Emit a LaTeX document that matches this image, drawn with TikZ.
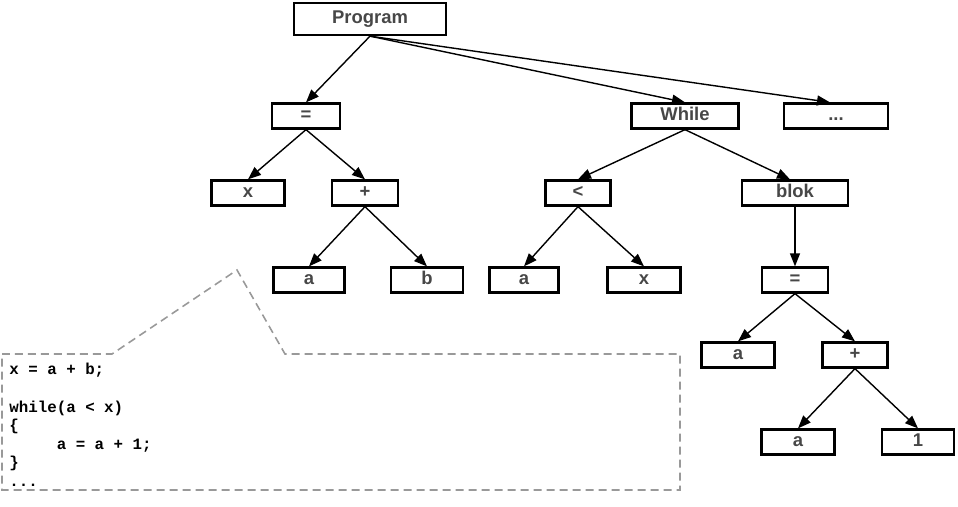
\documentclass[tikz,border=0pt]{standalone}
\usepackage{fontspec}
\setmainfont{Liberation Sans}
\setmonofont{Liberation Mono}
\usetikzlibrary{arrows.meta}

\begin{document}
\begin{tikzpicture}[x=0.02cm,y=-0.02cm,
  box/.style={draw,line width=1.3pt,minimum width=1.42cm,minimum height=0.5cm,inner sep=0pt,
    text height=0.74em,text depth=0.2em,
    text=black!72,font=\bfseries\fontsize{10.5}{12}\selectfont},
  edge/.style={line width=0.8pt,-{Triangle[length=2.6mm,width=2mm]}}]
\useasboundingbox (0,0) rectangle (958,507);
% tree
\node[box,minimum width=3.04cm,minimum height=0.64cm] (Program) at (370,19) {Program};
\node[box,minimum width=1.36cm] (eqA) at (306,116) {=};
\node[box,minimum width=2.14cm] (While) at (685,116) {While};
\node[box,minimum width=2.08cm] (dots) at (836,116) {...};
\node[box,minimum width=1.46cm] (xA) at (248,193) {x};
\node[box,minimum width=1.32cm] (plusA) at (365,193) {+};
\node[box,minimum width=1.3cm] (lt) at (578,193) {<};
\node[box,minimum width=2.12cm] (blok) at (795,193) {blok};
\node[box] (aA) at (309,280) {a};
\node[box,minimum width=1.44cm] (bA) at (427,280) {b};
\node[box,minimum width=1.38cm] (aB) at (524,280) {a};
\node[box,minimum width=1.46cm] (xB) at (644,280) {x};
\node[box,minimum width=1.32cm] (eqB) at (795,280) {=};
\node[box,minimum width=1.46cm] (aC) at (738,355) {a};
\node[box,minimum width=1.3cm] (plusB) at (855,355) {+};
\node[box,minimum width=1.46cm] (aD) at (798,442) {a};
\node[box,minimum width=1.44cm] (one) at (918,442) {1};
\coordinate (pg) at (Program.south);
\draw[edge] (pg) -- (eqA.north);
\draw[edge] (pg) -- (While.north);
\draw[edge] (pg) -- ([xshift=-0.12cm]dots.north);
\draw[edge] (eqA.south) -- (xA.north);
\draw[edge] (eqA.south) -- (plusA.north);
\draw[edge] (plusA.south) -- (aA.north);
\draw[edge] (plusA.south) -- (bA.north);
\draw[edge] (While.south) -- (lt.north);
\draw[edge] (While.south) -- ([xshift=-0.1cm]blok.north);
\draw[edge] (lt.south) -- (aB.north);
\draw[edge] (lt.south) -- (xB.north);
\draw[edge] (blok.south) -- (eqB.north);
\draw[edge] (eqB.south) -- (aC.north);
\draw[edge] (eqB.south) -- (plusB.north);
\draw[edge] (plusB.south) -- (aD.north);
\draw[edge] (plusB.south) -- (one.north);
% source code callout
\draw[black!40,line width=0.9pt,dash pattern=on 0.16cm off 0.1cm]
  (2,354) -- (112,354) -- (237,270) -- (285,354) -- (680,354) -- (680,490) -- (2,490) -- cycle;
\node[anchor=north west,align=left,inner sep=0pt,font=\ttfamily\bfseries\fontsize{9}{10.6}\selectfont] (code) at (9,363)
  {x = a + b;\\ \\ while(a < x)\\ \{\\ \phantom{xxxxx}a = a + 1;\\ \}\\ ...};
\end{tikzpicture}
\end{document}
